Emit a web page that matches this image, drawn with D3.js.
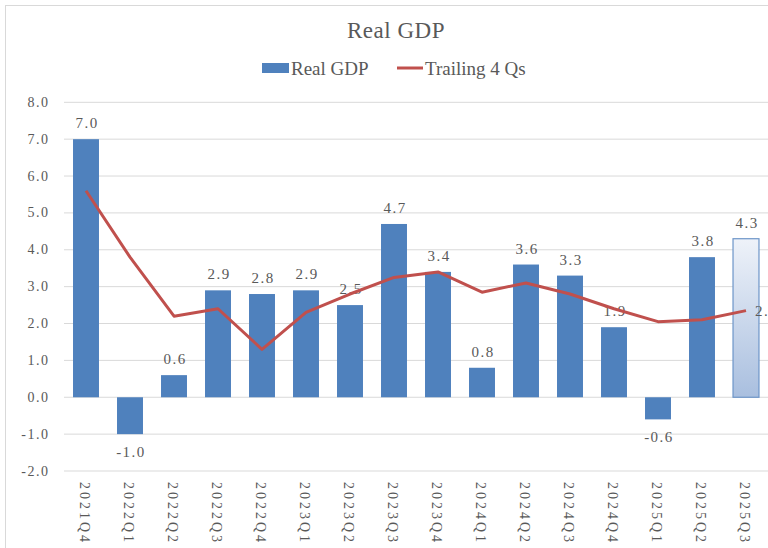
<!DOCTYPE html>
<html>
<head>
<meta charset="utf-8">
<script src="https://cdn.jsdelivr.net/npm/d3@7"></script>
<style>
  body { margin: 0; background: #fff; }
  text { font-family: "Liberation Serif", "DejaVu Serif", serif; fill: #595959; }
</style>
</head>
<body>
<svg id="chart" width="768" height="548"></svg>
<script>
let quarters = ['2021Q4', '2022Q1', '2022Q2', '2022Q3', '2022Q4', '2023Q1', '2023Q2', '2023Q3',
    '2023Q4', '2024Q1', '2024Q2', '2024Q3', '2024Q4', '2025Q1', '2025Q2', '2025Q3'];
let realGdp = [7.0, -1.0, 0.6, 2.9, 2.8, 2.9, 2.5, 4.7, 3.4, 0.8, 3.6, 3.3, 1.9, -0.6, 3.8, 4.3];
let trailing4 = [5.6, 3.8, 2.2, 2.4, 1.3, 2.3, 2.8, 3.25, 3.4, 2.85, 3.1, 2.8, 2.4, 2.05, 2.1, 2.35];
let yTicks = [-2, -1, 0, 1, 2, 3, 4, 5, 6, 7, 8];

let svg = d3.select('#chart');

// chart frame (runs past the right/bottom edge like the original)
svg.append('rect')
    .attr('x', 5.5).attr('y', 5.5)
    .attr('width', 800).attr('height', 600)
    .attr('fill', 'none')
    .attr('stroke', '#d9d9d9');

let x = d3.scaleBand().domain(quarters).range([64, 768]).paddingInner(0.41).paddingOuter(0.205);
let y = d3.scaleLinear().domain([-2, 8]).range([471, 102.3]);

// gradient for the last bar
let grad = svg.append('defs').append('linearGradient')
    .attr('id', 'lastGrad').attr('x1', 0).attr('y1', 0).attr('x2', 0).attr('y2', 1);
grad.append('stop').attr('offset', '0%').attr('stop-color', '#eef2f9');
grad.append('stop').attr('offset', '100%').attr('stop-color', '#a9bfdf');

// gridlines + y labels
svg.append('g').selectAll('line')
    .data(yTicks)
    .enter()
    .append('line')
    .attr('x1', 64).attr('x2', 768)
    .attr('y1', (d) => y(d)).attr('y2', (d) => y(d))
    .attr('stroke', '#d9d9d9')
    .attr('stroke-width', 1);

svg.append('g').selectAll('text')
    .data(yTicks)
    .enter()
    .append('text')
    .attr('x', 49.5)
    .attr('y', (d) => y(d) + 4.5)
    .attr('text-anchor', 'end')
    .attr('font-size', '14px')
    .attr('letter-spacing', '1.5px')
    .text((d) => d.toFixed(1));

// bars
let last = quarters.length - 1;
svg.append('g').selectAll('rect')
    .data(realGdp)
    .enter()
    .append('rect')
    .attr('x', (d, i) => x(quarters[i]))
    .attr('width', x.bandwidth())
    .attr('y', (d) => y(Math.max(0, d)))
    .attr('height', (d) => Math.abs(y(d) - y(0)))
    .attr('fill', (d, i) => i === last ? 'url(#lastGrad)' : '#4f81bd')
    .attr('stroke', (d, i) => i === last ? '#6d95c8' : 'none')
    .attr('stroke-width', 1.2);

// bar labels
svg.append('g').selectAll('text')
    .data(realGdp)
    .enter()
    .append('text')
    .attr('x', (d, i) => x(quarters[i]) + x.bandwidth() / 2 + 1)
    .attr('y', (d) => d >= 0 ? y(d) - 11 : y(d) + 23)
    .attr('text-anchor', 'middle')
    .attr('font-size', '15px')
    .attr('letter-spacing', '1.5px')
    .text((d) => d.toFixed(1));

// trailing line
let line = d3.line()
    .x((d, i) => x(quarters[i]) + x.bandwidth() / 2)
    .y((d) => y(d));

svg.append('path')
    .datum(trailing4)
    .attr('d', line)
    .attr('fill', 'none')
    .attr('stroke', '#c0504d')
    .attr('stroke-width', 3)
    .attr('stroke-linejoin', 'round');

svg.append('text')
    .attr('x', x(quarters[last]) + x.bandwidth() / 2 + 9)
    .attr('y', y(trailing4[last]) + 5)
    .attr('font-size', '15px')
    .attr('letter-spacing', '1.5px')
    .text(trailing4[last].toFixed(1));

// x labels, rotated
svg.append('g').selectAll('text')
    .data(quarters)
    .enter()
    .append('text')
    .attr('transform', (d) => 'translate(' + (x(d) + x.bandwidth() / 2 - 6) + ',482) rotate(90)')
    .attr('font-size', '14px')
    .attr('letter-spacing', '3px')
    .text((d) => d);

// title
svg.append('text')
    .attr('x', 396).attr('y', 38)
    .attr('text-anchor', 'middle')
    .attr('font-size', '23px')
    .attr('letter-spacing', '0.5px')
    .text('Real GDP');

// legend
let lg = svg.append('g');
lg.append('rect')
    .attr('x', 262).attr('y', 63).attr('width', 27).attr('height', 10)
    .attr('fill', '#4f81bd');
lg.append('text')
    .attr('x', 291).attr('y', 75)
    .attr('font-size', '19px')
    .text('Real GDP');
lg.append('line')
    .attr('x1', 397).attr('x2', 423).attr('y1', 68).attr('y2', 68)
    .attr('stroke', '#c0504d').attr('stroke-width', 3);
lg.append('text')
    .attr('x', 425).attr('y', 75)
    .attr('font-size', '19px')
    .text('Trailing 4 Qs');
</script>
</body>
</html>
